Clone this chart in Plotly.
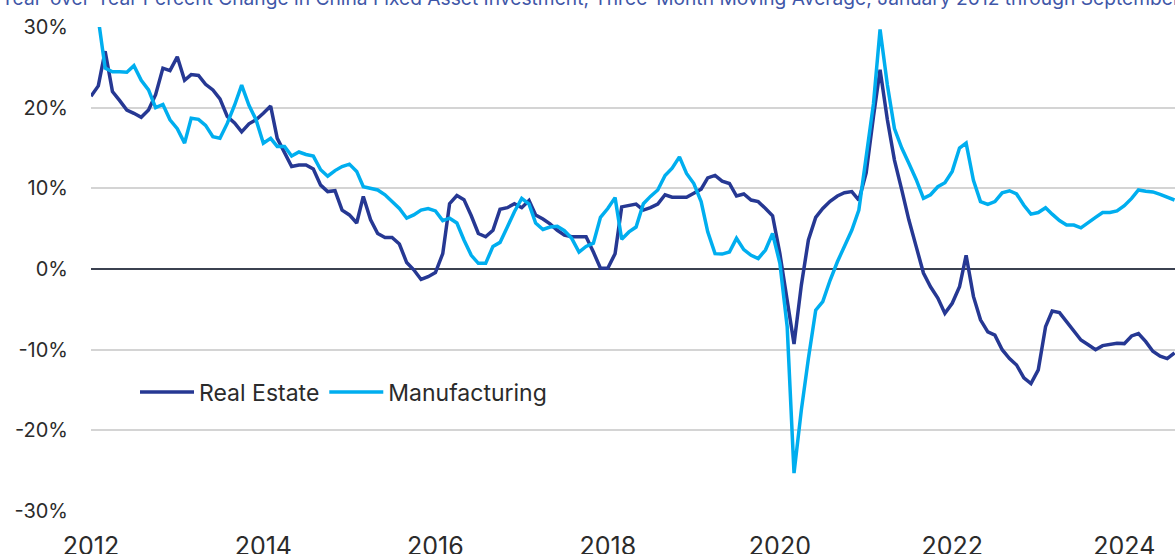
"""
China fixed asset investment chart.
Year-over-year change, three-month moving average, real estate vs manufacturing.
"""

import pandas as pd
import plotly.graph_objects as go


# Monthly data, January 2012 onward (percent)
real_estate = [
    21.4, 22.7, 27.0, 22.0, 20.9, 19.7, 19.3, 18.8, 19.7, 21.6, 24.9, 24.6,
    26.3, 23.4, 24.1, 24.0, 22.9, 22.2, 21.1, 18.9, 18.1, 17.0, 18.0, 18.5,
    19.3, 20.2, 16.2, 14.5, 12.7, 12.9, 12.9, 12.4, 10.4, 9.6, 9.7, 7.3,
    6.7, 5.7, 9.0, 6.1, 4.4, 3.9, 3.9, 3.1, 0.8, -0.1, -1.3, -0.95,
    -0.45, 1.9, 8.1, 9.1, 8.6, 6.6, 4.4, 4.0, 4.8, 7.4, 7.6, 8.1,
    7.6, 8.5, 6.7, 6.2, 5.6, 4.8, 4.2, 4.0, 4.0, 4.0, 2.1, 0.1,
    0.1, 1.9, 7.7, 7.9, 8.05, 7.3, 7.6, 8.05, 9.2, 8.9, 8.9, 8.9,
    9.4, 9.9, 11.3, 11.6, 10.9, 10.6, 9.05, 9.3, 8.55, 8.35, 7.5, 6.6,
    1.9, -4.0, -9.3, -2.0, 3.6, 6.4, 7.5, 8.4, 9.05, 9.45, 9.6, 8.55,
    11.9, 18.9, 24.7, 18.5, 13.5, 9.8, 6.1, 2.8, -0.5, -2.2, -3.6, -5.5,
    -4.25, -2.2, 1.7, -3.4, -6.3, -7.8, -8.2, -10.0, -11.1, -11.9, -13.5, -14.2,
    -12.5, -7.15, -5.2, -5.4, -6.5, -7.8, -8.8, -9.4, -10.0, -9.5, -9.4, -9.2,
    -9.25, -8.3, -8.0, -9.0, -10.2, -10.8, -11.1, -10.4,
]

manufacturing = [
    34.0, 31.0, 24.9, 24.45, 24.45, 24.4, 25.2, 23.4, 22.2, 20.0, 20.4, 18.5,
    17.4, 15.6, 18.7, 18.55, 17.8, 16.4, 16.2, 18.05, 20.3, 22.8, 20.3, 18.5,
    15.6, 16.2, 15.2, 15.2, 14.0, 14.5, 14.2, 14.0, 12.3, 11.5, 12.2, 12.7,
    13.0, 12.1, 10.2, 10.0, 9.8, 9.2, 8.35, 7.5, 6.3, 6.7, 7.3, 7.5,
    7.2, 6.0, 6.3, 5.7, 3.6, 1.7, 0.7, 0.7, 2.8, 3.3, 5.2, 7.1,
    8.75, 8.05, 5.7, 4.9, 5.2, 5.3, 4.75, 3.8, 2.1, 2.8, 3.2, 6.4,
    7.5, 8.85, 3.7, 4.6, 5.2, 8.1, 9.0, 9.8, 11.6, 12.5, 13.9, 11.85,
    10.6, 8.35, 4.6, 1.9, 1.85, 2.1, 3.8, 2.4, 1.7, 1.3, 2.35, 4.4,
    0.7, -7.15, -25.3, -17.5, -11.1, -5.1, -4.05, -1.4, 0.9, 2.8, 4.8, 7.3,
    13.9, 20.5, 29.7, 22.8, 17.4, 15.0, 13.1, 11.1, 8.75, 9.2, 10.2, 10.7,
    12.1, 15.0, 15.6, 11.0, 8.35, 8.0, 8.35, 9.45, 9.7, 9.3, 7.9, 6.8,
    7.0, 7.6, 6.8, 6.0, 5.45, 5.45, 5.1, 5.8, 6.4, 7.0, 7.0, 7.2,
    7.85, 8.75, 9.8, 9.65, 9.55, 9.25, 8.9, 8.55,
]

months = pd.date_range("2012-01-01", periods=len(real_estate), freq="MS")

year_ticks = ["2012", "2014", "2016", "2018", "2020", "2022", "2024"]
pct_ticks = [-30, -20, -10, 0, 10, 20, 30]

TITLE = ("Year-over-Year Percent Change in China Fixed Asset Investment, "
         "Three-Month Moving Average, January 2012 through September 2024")

NAVY = "#263893"
SKY = "#00aeef"
INK = "#2b2b2b"
FONT = "Inter, 'Open Sans', sans-serif"


def build_figure() -> go.Figure:
    fig = go.Figure()

    fig.add_trace(go.Scatter(
        x=months, y=real_estate, name="Real Estate", mode="lines",
        line=dict(color=NAVY, width=3.5),
    ))
    fig.add_trace(go.Scatter(
        x=months, y=manufacturing, name="Manufacturing", mode="lines",
        line=dict(color=SKY, width=3.5),
    ))

    fig.update_layout(
        width=1175,
        height=554,
        margin=dict(l=91, r=0, t=27, b=43, autoexpand=False),
        plot_bgcolor="white",
        paper_bgcolor="white",
        font=dict(family=FONT, size=20, color=INK),
        legend=dict(
            orientation="h", x=0.0406, y=0.246, xanchor="left", yanchor="middle",
            bgcolor="rgba(0,0,0,0)", font=dict(size=23, color=INK),
            itemwidth=54,
        ),
        annotations=[dict(
            text=TITLE, xref="paper", yref="paper", x=-0.0846, y=1.031,
            xanchor="left", yanchor="bottom", showarrow=False,
            font=dict(size=19.2, color="#3f57a8", family=FONT),
        )],
    )

    fig.update_xaxes(
        type="date",
        range=["2012-01-01", "2024-08-03"],
        tickvals=[f"{y}-01-01" for y in year_ticks],
        ticktext=year_ticks,
        showgrid=False, zeroline=False, showline=False, ticks="",
        automargin=False, ticklabelstandoff=18,
        tickfont=dict(size=25, color=INK),
    )
    fig.update_yaxes(
        range=[-30, 30],
        tickvals=pct_ticks,
        ticktext=[f"{v}%" for v in pct_ticks],
        showgrid=True, gridcolor="#d4d4d4", gridwidth=1.5,
        zeroline=True, zerolinecolor="#3b4150", zerolinewidth=1.5,
        showline=False, ticks="", automargin=False, ticklabelstandoff=22,
        tickfont=dict(size=20, color=INK),
    )

    return fig


fig = build_figure()
# page body margin would shift the chart off its 1175x554 frame
fig.write_html(
    "out.html",
    config={"displayModeBar": False},
    post_script="document.body.style.margin='0';document.body.style.overflow='hidden';",
)
